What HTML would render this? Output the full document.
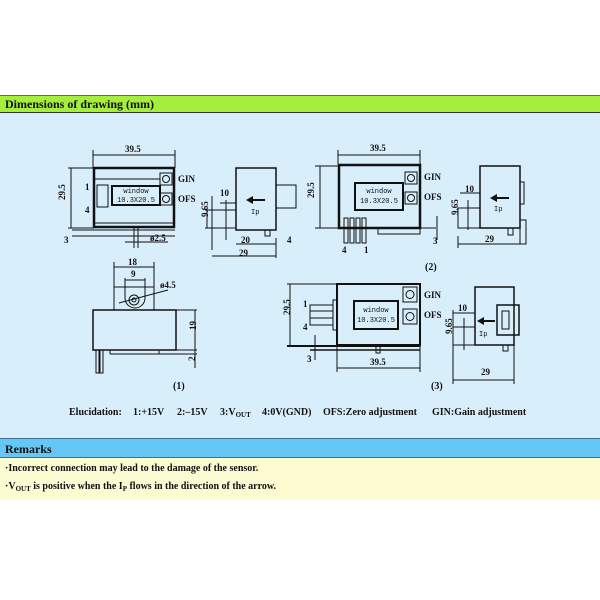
<!DOCTYPE html>
<html><head><meta charset="utf-8"><style>
html,body{margin:0;padding:0;background:#fff;width:600px;height:600px;overflow:hidden}
svg{display:block}
text{font-family:"Liberation Serif",serif;font-weight:bold;fill:#111}
.s{font-family:"Liberation Mono",monospace;font-weight:normal;font-size:7px}
</style></head><body>
<svg width="600" height="600" viewBox="0 0 600 600">
<rect x="0" y="95" width="600" height="18" fill="#a6ee3c"/>
<line x1="0" y1="95.5" x2="600" y2="95.5" stroke="#666"/>
<line x1="0" y1="112.5" x2="600" y2="112.5" stroke="#333"/>
<rect x="0" y="113" width="600" height="325" fill="#d9eefb"/>
<rect x="0" y="438" width="600" height="20" fill="#66c6f5"/>
<line x1="0" y1="438.5" x2="600" y2="438.5" stroke="#3a6e94"/>
<line x1="0" y1="457.5" x2="600" y2="457.5" stroke="#3a6e94"/>
<rect x="0" y="458" width="600" height="42" fill="#fdfbd2"/>
<text x="5" y="108" font-size="12">Dimensions of drawing (mm)</text>
<text x="5" y="453" font-size="12" fill="#123">Remarks</text>
<text x="5" y="471" font-size="10">·Incorrect connection may lead to the damage of the sensor.</text>
<text x="5" y="489" font-size="10">·V<tspan font-size="7" dy="2">OUT</tspan><tspan dy="-2"> is positive when the I</tspan><tspan font-size="7" dy="2">P</tspan><tspan dy="-2"> flows in the direction of the arrow.</tspan></text>
<g font-size="10">
<text x="69" y="415">Elucidation:</text>
<text x="133" y="415">1:+15V</text>
<text x="177" y="415">2:–15V</text>
<text x="220" y="415">3:V<tspan font-size="7" dy="2">OUT</tspan></text>
<text x="262" y="415">4:0V(GND)</text>
<text x="323" y="415">OFS:Zero adjustment</text>
<text x="432" y="415">GIN:Gain adjustment</text>
</g>

<g stroke="#111" fill="none" stroke-width="1">
<!-- drawing 1 front -->
<line x1="93" y1="150" x2="93" y2="168"/><line x1="175" y1="150" x2="175" y2="168"/>
<line x1="93" y1="155" x2="175" y2="155"/>
<rect x="94" y="168" width="80" height="59" stroke-width="2.5"/>
<line x1="68" y1="168" x2="94" y2="168"/><line x1="68" y1="228" x2="94" y2="228"/>
<line x1="71" y1="168" x2="71" y2="228"/>
<line x1="94" y1="179" x2="160" y2="179"/><line x1="94" y1="223" x2="174" y2="223"/>
<rect x="97" y="185" width="11" height="22"/>
<rect x="112" y="186" width="48" height="19" stroke-width="2"/>
<rect x="160" y="173" width="12" height="12"/><rect x="160" y="193" width="12" height="12"/>
<circle cx="166" cy="179" r="3.5"/><circle cx="166" cy="199" r="3.5"/>
<line x1="72" y1="230" x2="175" y2="230"/><line x1="72" y1="236" x2="175" y2="236"/>
<line x1="134" y1="228" x2="134" y2="248"/><line x1="138" y1="228" x2="138" y2="248"/>
<line x1="125" y1="242" x2="168" y2="242"/>
<!-- side 1 -->
<rect x="236" y="168" width="40" height="62" stroke-width="1.5"/>
<rect x="276" y="185" width="20" height="23"/>
<rect x="212" y="210" width="24" height="18"/>
<line x1="220" y1="203" x2="236" y2="203"/>
<line x1="226" y1="200" x2="226" y2="240"/>
<line x1="212" y1="196" x2="212" y2="250"/>
<line x1="205" y1="210" x2="212" y2="210"/><line x1="205" y1="228" x2="212" y2="228"/>
<line x1="207" y1="210" x2="207" y2="228"/>
<rect x="265" y="230" width="5" height="6"/>
<line x1="236" y1="244" x2="276" y2="244"/>
<line x1="212" y1="256" x2="276" y2="256"/>
<line x1="276" y1="238" x2="276" y2="258"/>
<!-- drawing 2 -->
<line x1="338" y1="150" x2="338" y2="164"/><line x1="420" y1="150" x2="420" y2="164"/>
<line x1="338" y1="155" x2="420" y2="155"/>
<rect x="339" y="165" width="81" height="63" stroke-width="2.5"/>
<line x1="315" y1="166" x2="339" y2="166"/><line x1="315" y1="228" x2="339" y2="228"/>
<line x1="320" y1="166" x2="320" y2="228"/>
<line x1="339" y1="228" x2="436" y2="228"/>
<rect x="378" y="228" width="42" height="6"/>
<rect x="355" y="183" width="48" height="27" stroke-width="2"/>
<rect x="405" y="172" width="12" height="12"/><rect x="405" y="192" width="12" height="12"/>
<circle cx="411" cy="178" r="3.5"/><circle cx="411" cy="198" r="3.5"/>
<rect x="344" y="218" width="4" height="25"/><rect x="350" y="218" width="4" height="25"/>
<rect x="356" y="218" width="4" height="25"/><rect x="362" y="218" width="4" height="25"/>
<line x1="437" y1="216" x2="437" y2="240"/>
<rect x="480" y="166" width="40" height="62" stroke-width="1.5"/>
<rect x="520" y="182" width="4" height="22"/><rect x="520" y="220" width="6" height="24"/>
<rect x="458" y="208" width="22" height="20"/>
<line x1="468" y1="200" x2="468" y2="230"/>
<line x1="460" y1="193" x2="480" y2="193"/>
<line x1="458" y1="236" x2="458" y2="248"/>
<line x1="458" y1="244" x2="520" y2="244"/>
<rect x="508" y="228" width="5" height="7"/>
<!-- drawing 1 bottom -->
<path d="M114 310 L114 287 L154 287 L154 310"/>
<line x1="114" y1="262" x2="114" y2="287"/><line x1="154" y1="262" x2="154" y2="287"/>
<line x1="114" y1="267" x2="154" y2="267"/>
<line x1="125" y1="278" x2="125" y2="298"/><line x1="145" y1="278" x2="145" y2="298"/>
<line x1="125" y1="280" x2="145" y2="280"/>
<path d="M125 298 A10 10 0 0 0 145 298"/>
<circle cx="134" cy="300" r="5"/><circle cx="134" cy="300" r="2"/>
<line x1="119" y1="303" x2="168" y2="290"/>
<rect x="93" y="310" width="83" height="40" stroke-width="1.5"/>
<line x1="176" y1="310" x2="197" y2="310"/><line x1="176" y1="350" x2="197" y2="350"/>
<line x1="195" y1="310" x2="195" y2="368"/>
<line x1="110" y1="354" x2="197" y2="354"/>
<line x1="110" y1="350" x2="110" y2="354"/><line x1="159" y1="350" x2="159" y2="354"/>
<rect x="96" y="350" width="3" height="23"/><rect x="100" y="350" width="3" height="23"/>
<!-- drawing 3 -->
<rect x="337" y="284" width="83" height="61" stroke-width="2"/>
<line x1="287" y1="284" x2="337" y2="284"/><line x1="287" y1="346" x2="420" y2="346" stroke-width="2"/>
<line x1="290" y1="284" x2="290" y2="346"/>
<rect x="310" y="305" width="23" height="20"/>
<line x1="310" y1="311" x2="333" y2="311"/><line x1="310" y1="318" x2="333" y2="318"/>
<rect x="333" y="300" width="4" height="30"/>
<rect x="354" y="301" width="44" height="28" stroke-width="2"/>
<rect x="403" y="287" width="14" height="15"/><rect x="403" y="309" width="14" height="15"/>
<circle cx="410" cy="294.5" r="4"/><circle cx="410" cy="316.5" r="4"/>
<line x1="310" y1="350" x2="420" y2="350" stroke-width="1.5"/>
<rect x="376" y="346" width="4" height="7"/>
<line x1="315" y1="335" x2="315" y2="360"/>
<line x1="337" y1="346" x2="337" y2="372"/><line x1="420" y1="346" x2="420" y2="372"/>
<line x1="337" y1="368" x2="420" y2="368"/>
<rect x="475" y="287" width="39" height="58" stroke-width="1.5"/>
<rect x="497" y="305" width="22" height="30" stroke-width="1.5"/>
<rect x="502" y="311" width="7" height="18"/>
<rect x="453" y="327" width="22" height="18"/>
<line x1="464" y1="318" x2="464" y2="350"/>
<line x1="453" y1="313" x2="475" y2="313"/>
<line x1="453" y1="310" x2="453" y2="384"/>
<line x1="453" y1="380" x2="514" y2="380"/>
<line x1="514" y1="345" x2="514" y2="384"/>
<rect x="503" y="345" width="5" height="6"/>
</g>
<!-- arrows -->
<g fill="#111" stroke="#111" stroke-width="2">
<line x1="252" y1="200" x2="265" y2="200"/><path d="M246 200 L253 196 L253 204Z" stroke="none"/>
<line x1="496" y1="198" x2="509" y2="198"/><path d="M490 198 L497 194 L497 202Z" stroke="none"/>
<line x1="483" y1="321" x2="495" y2="321"/><path d="M477 321 L484 317 L484 325Z" stroke="none"/>
</g>
<g font-size="9">
<text x="125" y="152">39.5</text><text x="370" y="151">39.5</text><text x="370" y="365">39.5</text>
<text x="60" y="205" transform="rotate(-90 60 200)">29.5</text>
<text x="309" y="203" transform="rotate(-90 309 198)">29.5</text>
<text x="285" y="320" transform="rotate(-90 285 315)">29.5</text>
<text x="220" y="196">10</text><text x="465" y="192">10</text><text x="458" y="311">10</text>
<text x="203" y="222" transform="rotate(-90 203 217)">9.65</text>
<text x="453" y="220" transform="rotate(-90 453 215)">9.65</text>
<text x="447" y="339" transform="rotate(-90 447 334)">9.65</text>
<text x="241" y="243">20</text><text x="287" y="243">4</text><text x="239" y="256">29</text>
<text x="485" y="242">29</text><text x="481" y="375">29</text>
<text x="64" y="243">3</text><text x="433" y="244">3</text><text x="307" y="362">3</text>
<text x="150" y="241">ø2.5</text><text x="160" y="288">ø4.5</text>
<text x="128" y="265">18</text><text x="131" y="277">9</text>
<text x="192" y="334" transform="rotate(-90 192 330)">19</text>
<text x="192" y="364" transform="rotate(-90 192 361)">2</text>
</g>
<g font-size="9">
<text x="178" y="182">GIN</text><text x="178" y="202">OFS</text>
<text x="424" y="180">GIN</text><text x="424" y="200">OFS</text>
<text x="424" y="298">GIN</text><text x="424" y="318">OFS</text>
<text x="85" y="190" font-weight="normal">1</text><text x="85" y="213" font-weight="normal">4</text>
<text x="303" y="307" font-weight="normal">1</text><text x="303" y="330" font-weight="normal">4</text>
<text x="342" y="253" font-weight="normal">4</text><text x="364" y="253" font-weight="normal">1</text>
<text x="173" y="389" font-size="10">(1)</text><text x="425" y="270" font-size="10">(2)</text><text x="431" y="389" font-size="10">(3)</text>
</g>
<g>
<text class="s" x="136" y="193" text-anchor="middle">window</text><text class="s" x="136" y="202" text-anchor="middle">10.3X20.5</text>
<text class="s" x="379" y="193" text-anchor="middle">window</text><text class="s" x="379" y="203" text-anchor="middle">10.3X20.5</text>
<text class="s" x="376" y="312" text-anchor="middle">window</text><text class="s" x="376" y="322" text-anchor="middle">10.3X20.5</text>
<text class="s" x="251" y="214" font-size="9">Ip</text><text class="s" x="494" y="211" font-size="9">Ip</text><text class="s" x="479" y="336" font-size="9">Ip</text>
</g>
</svg>
</body></html>
